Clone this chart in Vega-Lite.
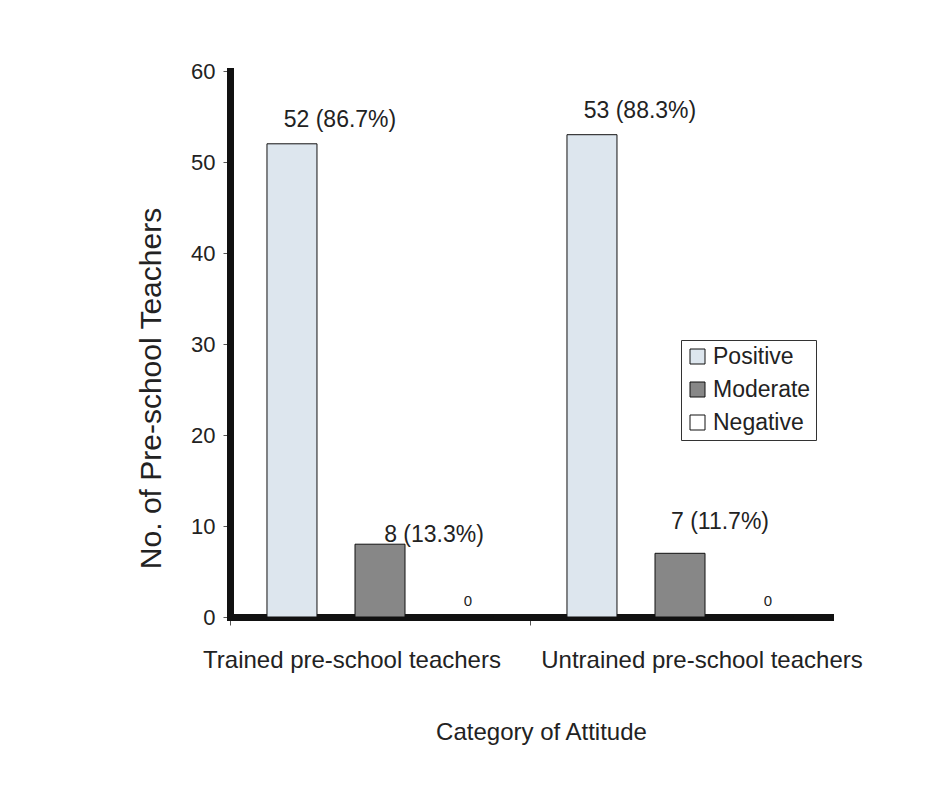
{
  "$schema": "https://vega.github.io/schema/vega-lite/v6.json",
  "autosize": "none",
  "width": 600,
  "height": 546,
  "padding": {"left": 230, "top": 71, "right": 113, "bottom": 179},
  "background": "white",
  "config": {
    "font": "Liberation Sans",
    "view": {"stroke": null}
  },
  "data": {
    "values": [
      {"group": "Trained pre-school teachers", "attitude": "Positive", "count": 52, "label": "52 (86.7%)"},
      {"group": "Trained pre-school teachers", "attitude": "Moderate", "count": 8, "label": "8 (13.3%)"},
      {"group": "Trained pre-school teachers", "attitude": "Negative", "count": 0, "label": "0"},
      {"group": "Untrained pre-school teachers", "attitude": "Positive", "count": 53, "label": "53 (88.3%)"},
      {"group": "Untrained pre-school teachers", "attitude": "Moderate", "count": 7, "label": "7 (11.7%)"},
      {"group": "Untrained pre-school teachers", "attitude": "Negative", "count": 0, "label": "0"}
    ]
  },
  "encoding": {
    "x": {
      "field": "group",
      "type": "nominal",
      "sort": ["Trained pre-school teachers", "Untrained pre-school teachers"],
      "scale": {"paddingInner": 0, "paddingOuter": 0},
      "axis": {
        "title": "Category of Attitude",
        "titleFontSize": 24,
        "titleFontWeight": "normal",
        "titleColor": "#222",
        "titleX": 311,
        "titleY": 122,
        "titleBaseline": "alphabetic",
        "titleAlign": "center",
        "labelAngle": 0,
        "labelFontSize": 24,
        "labelColor": "#222",
        "labelPadding": 23,
        "labelLimit": 500,
        "labelOffset": {"condition": {"test": "datum.value == 'Trained pre-school teachers'", "value": -28}, "value": 22},
        "domainColor": "#111",
        "domainWidth": 7,
        "domainCap": "square",
        "tickColor": "#555",
        "tickSize": 8,
        "tickWidth": 1,
        "bandPosition": 0
      }
    },
    "xOffset": {
      "field": "attitude",
      "type": "nominal",
      "sort": ["Positive", "Moderate", "Negative"],
      "scale": {"paddingInner": 0.432, "paddingOuter": 0.42}
    },
    "y": {
      "field": "count",
      "type": "quantitative",
      "scale": {"domain": [0, 60], "nice": false},
      "axis": {
        "title": "No. of Pre-school Teachers",
        "titleFontSize": 30,
        "titleFontWeight": "normal",
        "titleColor": "#222",
        "titleAngle": -90,
        "titleX": -70,
        "titleY": 317,
        "titleAlign": "center",
        "titleBaseline": "alphabetic",
        "values": [0, 10, 20, 30, 40, 50, 60],
        "labelFontSize": 22,
        "labelColor": "#222",
        "labelPadding": 8,
        "domainColor": "#111",
        "domainWidth": 7,
        "domainCap": "square",
        "tickColor": "#555",
        "tickSize": 7,
        "tickWidth": 1,
        "grid": false
      }
    }
  },
  "layer": [
    {
      "mark": {"type": "bar", "stroke": "#111", "strokeWidth": 1},
      "encoding": {
        "fill": {
          "field": "attitude",
          "type": "nominal",
          "sort": ["Positive", "Moderate", "Negative"],
          "scale": {"domain": ["Positive", "Moderate", "Negative"], "range": ["#dde6ee", "#878787", "#ffffff"]},
          "legend": {
            "title": null,
            "orient": "none",
            "legendX": 451,
            "legendY": 269,
            "strokeColor": "#333",
            "padding": 5,
            "symbolType": "square",
            "symbolSize": 225,
            "symbolStrokeColor": "#111",
            "symbolStrokeWidth": 1,
            "labelFontSize": 23,
            "labelColor": "#222",
            "labelOffset": 4,
            "rowPadding": 9
          }
        }
      }
    },
    {
      "transform": [{"filter": "datum.attitude == 'Positive'"}],
      "mark": {"type": "text", "fontSize": 23, "color": "#222", "align": "center", "baseline": "alphabetic", "dx": 48, "dy": -17},
      "encoding": {"text": {"field": "label"}}
    },
    {
      "transform": [{"filter": "datum.attitude == 'Moderate' && datum.count == 8"}],
      "mark": {"type": "text", "fontSize": 23, "color": "#222", "align": "center", "baseline": "alphabetic", "dx": 54, "dy": -2},
      "encoding": {"text": {"field": "label"}}
    },
    {
      "transform": [{"filter": "datum.attitude == 'Moderate' && datum.count == 7"}],
      "mark": {"type": "text", "fontSize": 23, "color": "#222", "align": "center", "baseline": "alphabetic", "dx": 40, "dy": -24},
      "encoding": {"text": {"field": "label"}}
    },
    {
      "transform": [{"filter": "datum.attitude == 'Negative'"}],
      "mark": {"type": "text", "fontSize": 15, "color": "#222", "align": "center", "baseline": "alphabetic", "dx": 0, "dy": -11},
      "encoding": {"text": {"field": "label"}}
    }
  ]
}
